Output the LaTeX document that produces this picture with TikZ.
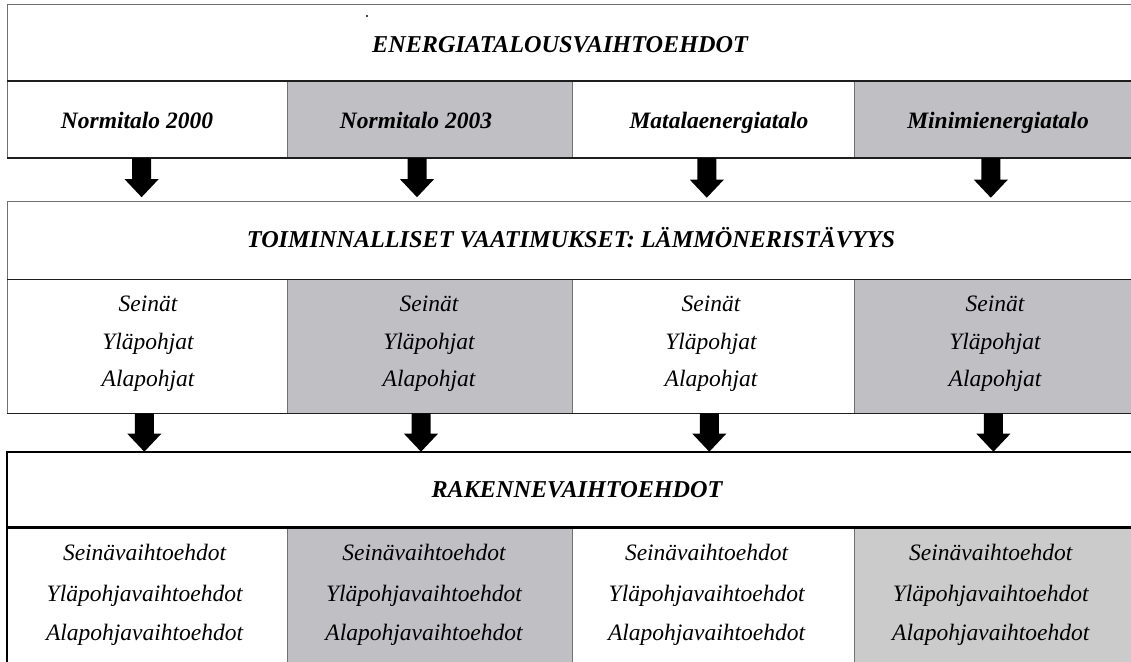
\documentclass[tikz,border=0pt]{standalone}
\usepackage{fontspec}
\setmainfont{Liberation Serif}
\usetikzlibrary{calc}

\definecolor{cellgray}{HTML}{C0BFC4}
\definecolor{cellgraylight}{HTML}{CBCBCB}
\definecolor{rulegray}{HTML}{707070}
\definecolor{ruledark}{HTML}{1E1E1E}

\tikzset{
  cell/.style={rectangle, inner sep=0pt, outer sep=0pt, anchor=north west,
               draw=rulegray, line width=1pt},
  darkrule/.style={draw=ruledark, line width=1.2pt},
  heavyrule/.style={draw=black, line width=2.4pt},
  title/.style={anchor=base, inner sep=0pt, font=\fontsize{24.2}{29}\selectfont\bfseries\itshape},
  head/.style={anchor=base, inner sep=0pt, font=\fontsize{23.5}{28}\selectfont\bfseries\itshape},
  item/.style={anchor=base, inner sep=0pt, font=\fontsize{23.5}{28}\selectfont\itshape},
  blockarrow/.style={fill=black, to path={
      let \p1=(\tikztostart), \p2=(\tikztotarget) in
      (\x1-9.5pt,\y1) -- (\x1+9.5pt,\y1) -- (\x1+9.5pt,\y2+18pt) -- (\x1+17pt,\y2+18pt)
      -- (\x1,\y2) -- (\x1-17pt,\y2+18pt) -- (\x1-9.5pt,\y2+18pt) -- cycle}},
}

\begin{document}
\begin{tikzpicture}[x=1pt,y=-1pt]
\useasboundingbox (0,0) rectangle (1131,661);

% ---------- block 1: energy alternatives ----------
\node[cell, fill=white, minimum width=1140pt, minimum height=76pt] (band1) at (7,5) {};
\node[cell, fill=white,    minimum width=280pt,   minimum height=77pt] (h1) at (7,81) {};
\node[cell, fill=cellgray, minimum width=285.7pt, minimum height=77pt] (h2) at (287,81) {};
\node[cell, fill=white,    minimum width=281.3pt, minimum height=77pt] (h3) at (572.7,81) {};
\node[cell, fill=cellgray, minimum width=290pt,   minimum height=77pt] (h4) at (854,81) {};
\draw[darkrule] (band1.south west) -- (band1.south east);
\draw[darkrule] (h1.south west) -- (h4.south east);
\fill (367,16) circle (1.1pt);

\node[title] (lband1) at (560,52.3) {ENERGIATALOUSVAIHTOEHDOT};
\node[head] (lh1) at (137,128.3) {Normitalo 2000};
\node[head] (lh2) at (416,128.3) {Normitalo 2003};
\node[head] (lh3) at (719,128.3) {Matalaenergiatalo};
\node[head] (lh4) at (998,128.3) {Minimienergiatalo};

% ---------- block 2: functional requirements ----------
\node[cell, fill=white, minimum width=1140pt, minimum height=77.6pt] (band2) at (7,201.7) {};
\node[cell, fill=white,    minimum width=280pt,   minimum height=134pt] (r1) at (7,279.3) {};
\node[cell, fill=cellgray, minimum width=285.7pt, minimum height=134pt] (r2) at (287,279.3) {};
\node[cell, fill=white,    minimum width=281.3pt, minimum height=134pt] (r3) at (572.7,279.3) {};
\node[cell, fill=cellgray, minimum width=290pt,   minimum height=134pt] (r4) at (854,279.3) {};
\draw[darkrule] (band2.south west) -- (band2.south east);
\draw[darkrule] (r1.south west) -- (r4.south east);

\node[title] (lband2) at (571,247.7) {TOIMINNALLISET VAATIMUKSET: LÄMMÖNERISTÄVYYS};
\foreach \i/\x in {1/148, 2/429, 3/711, 4/995} {
  \node[item] (r\i a) at (\x,311.7) {Seinät};
  \node[item] (r\i b) at (\x,349)   {Yläpohjat};
  \node[item] (r\i c) at (\x,386)   {Alapohjat};
}

% ---------- block 3: structural alternatives ----------
\node[cell, draw=none, fill=white, minimum width=1140pt, minimum height=75.6pt] (band3) at (7,451.7) {};
\node[cell, fill=white,         minimum width=280pt,   minimum height=150pt] (k1) at (7,527.3) {};
\node[cell, fill=cellgray,      minimum width=285.7pt, minimum height=150pt] (k2) at (287,527.3) {};
\node[cell, fill=white,         minimum width=281.3pt, minimum height=150pt] (k3) at (572.7,527.3) {};
\node[cell, fill=cellgraylight, minimum width=290pt,   minimum height=150pt] (k4) at (854,527.3) {};
\draw[heavyrule] (band3.north east) -- (band3.north west) -- (k1.south west);
\draw[heavyrule] (band3.south west) -- (band3.south east);

\node[title] (lband3) at (577,497.7) {RAKENNEVAIHTOEHDOT};
\foreach \i/\x in {1/144.6, 2/424, 3/706.6, 4/990.7} {
  \node[item] (k\i a) at (\x,560)   {Seinävaihtoehdot};
  \node[item] (k\i b) at (\x,601.5) {Yläpohjavaihtoehdot};
  \node[item] (k\i c) at (\x,640)   {Alapohjavaihtoehdot};
}

% ---------- block arrows ----------
\fill[blockarrow] ($(h1.south west)+(134.6,0)$) to ($(h1.south west |- band2.north)+(134.6,-4.5)$);
\fill[blockarrow] ($(h2.south west)+(130,0)$)   to ($(h2.south west |- band2.north)+(130,-4.5)$);
\fill[blockarrow] ($(h3.south west)+(134.1,0)$) to ($(h3.south west |- band2.north)+(134.1,-4)$);
\fill[blockarrow] ($(h4.south west)+(136.8,0)$) to ($(h4.south west |- band2.north)+(136.8,-4)$);

\fill[blockarrow] ($(r1.south west)+(137.3,0)$) to ($(r1.south west |- band3.north)+(137.3,0)$);
\fill[blockarrow] ($(r2.south west)+(134,0)$)   to ($(r2.south west |- band3.north)+(134,0)$);
\fill[blockarrow] ($(r3.south west)+(136.6,0)$) to ($(r3.south west |- band3.north)+(136.6,0)$);
\fill[blockarrow] ($(r4.south west)+(139.4,0)$) to ($(r4.south west |- band3.north)+(139.4,0)$);
\end{tikzpicture}
\end{document}
